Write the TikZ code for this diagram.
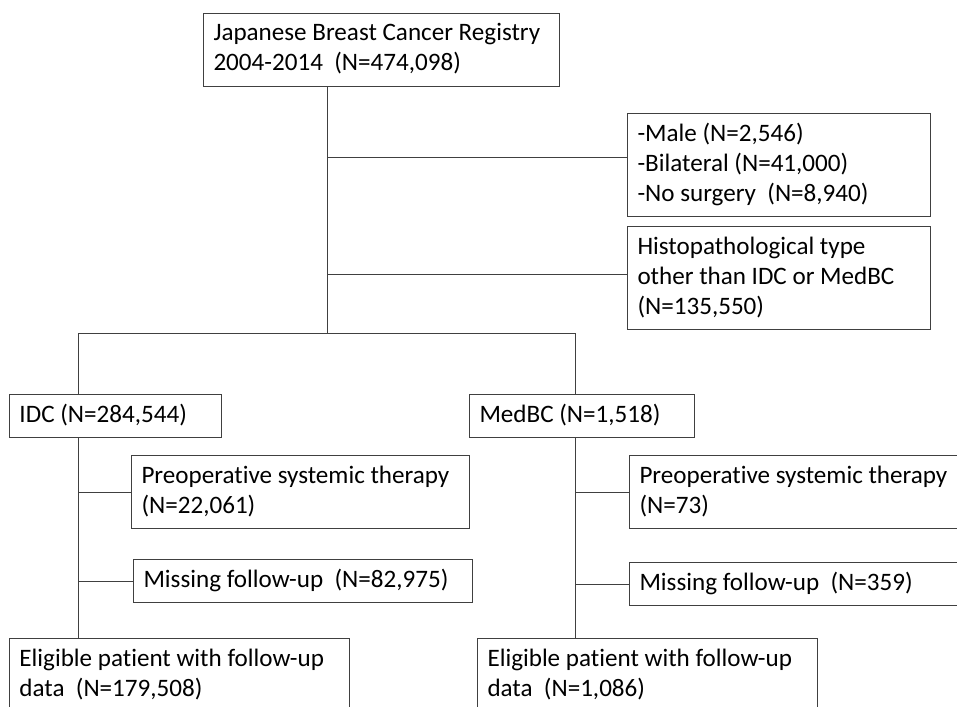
\documentclass[tikz,border=0pt]{standalone}
\usepackage{fontspec}
\setmainfont{Carlito}[Ligatures=NoCommon]
\usetikzlibrary {positioning}
\tikzset{
    box/.style={draw=black!75,line width=1pt,anchor=north west,align=flush left,
        inner xsep=10pt,inner ysep=6.5pt,
        font=\fontsize{25.1}{30}\selectfont,
        execute at begin node=\strut,execute at end node=\strut},
    link/.style={draw=black!75,line width=1pt}
}
\newcommand{\flowBox}[5]{%
    \node[box,text width=#3] (#4) at (#1,#2) {#5};
}

\begin{document}
\begin{tikzpicture}[x=1pt,y=-1pt]
    \clip (0,0) rectangle (957,706);
    \useasboundingbox (0,0) rectangle (957,706);
    %registry
    \flowBox{203}{13}{336pt}{reg}{Japanese Breast Cancer Registry\\2004-2014~~(N=474,098)}
    \flowBox{627}{113}{283pt}{exA}{-Male (N=2,546)\\-Bilateral (N=41,000)\\-No surgery~~(N=8,940)}
    \flowBox{627}{226}{283pt}{exB}{Histopathological type\\other than IDC or MedBC\\(N=135,550)}
    %IDC
    \flowBox{9}{394}{192pt}{idc}{IDC (N=284,544)}
    \flowBox{131}{455}{318pt}{idcPre}{Preoperative systemic therapy\\(N=22,061)}
    \flowBox{133}{559}{319pt}{idcMiss}{Missing follow-up~~(N=82,975)}
    \flowBox{9}{638}{320pt}{idcOut}{Eligible patient with follow-up\\data~~(N=179,508)}
    %MedBC
    \flowBox{469}{394}{205pt}{med}{MedBC (N=1,518)}
    \flowBox{629}{455}{330pt}{medPre}{Preoperative systemic therapy\\(N=73)}
    \flowBox{629}{562}{330pt}{medMiss}{Missing follow-up~~(N=359)}
    \flowBox{477}{638}{320pt}{medOut}{Eligible patient with follow-up\\data~~(N=1,086)}
    %lines
    \coordinate (trunk) at (327,333);
    \coordinate (idcTop) at (78,333);
    \coordinate (medTop) at (575,333);
    \draw[link] (reg.south -| trunk) -- (trunk);
    \draw[link] ([yshift=8pt]exA.west -| trunk) -- ([yshift=8pt]exA.west);
    \draw[link] ([yshift=4pt]exB.west -| trunk) -- ([yshift=4pt]exB.west);
    \draw[link] (idc.north -| idcTop) -- (idcTop) -- (medTop) -- (med.north -| medTop);
    \draw[link] (idc.south -| idcTop) -- (idcOut.north -| idcTop);
    \draw[link] (idcPre.west -| idcTop) -- (idcPre.west);
    \draw[link] (idcMiss.west -| idcTop) -- (idcMiss.west);
    \draw[link] (med.south -| medTop) -- (medOut.north -| medTop);
    \draw[link] (medPre.west -| medTop) -- (medPre.west);
    \draw[link] (medMiss.west -| medTop) -- (medMiss.west);
\end{tikzpicture}
\end{document}
